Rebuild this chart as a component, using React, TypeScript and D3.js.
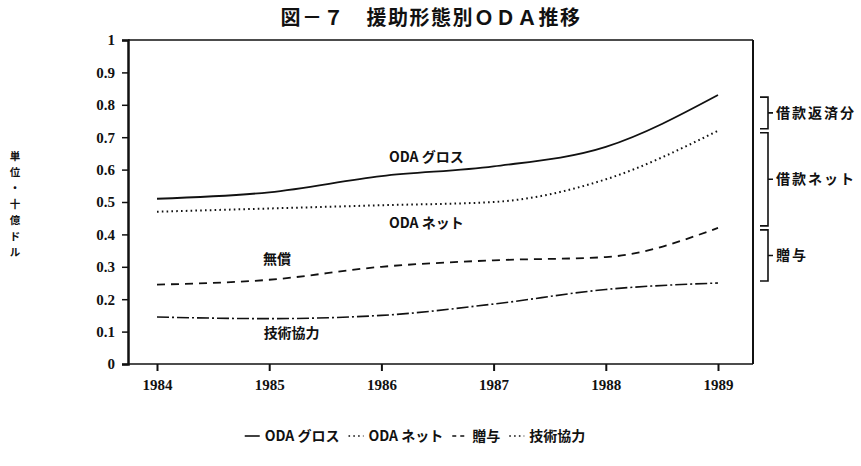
import { useEffect, useRef } from "react";
import * as d3 from "d3";

// ── Data (billions of US$) ─────────────────────────────────────────────────
const years = [1984, 1985, 1986, 1987, 1988, 1989];
const odaGross = [0.51, 0.53, 0.58, 0.61, 0.67, 0.83];
const odaNet = [0.47, 0.48, 0.49, 0.5, 0.57, 0.72];
const grant = [0.245, 0.26, 0.3, 0.32, 0.33, 0.42];
const techCoop = [0.145, 0.14, 0.15, 0.185, 0.23, 0.25];
const yTicks = [0, 0.1, 0.2, 0.3, 0.4, 0.5, 0.6, 0.7, 0.8, 0.9, 1];

const seriesNames = ["ODA グロス", "ODA ネット", "贈与", "技術協力"];
const unitLabel = ["単", "位", "・", "十", "億", "ド", "ル"];

const W = 861;
const H = 466;
const SERIF = "'Liberation Serif', 'DejaVu Serif', serif";
const JP = "'Noto Sans CJK JP', sans-serif";
const INK = "#111";

export default function App() {
  const svgRef = useRef<SVGSVGElement>(null);

  useEffect(() => {
    if (!svgRef.current) return;
    const svg = d3.select(svgRef.current);
    svg.selectAll("*").remove();

    const plot = { left: 128, right: 753, top: 40, bottom: 364 };

    const x = d3.scaleLinear().domain([1984, 1989]).range([157, 718]);
    const y = d3.scaleLinear().domain([0, 1]).range([plot.bottom, plot.top]);

    svg.append("rect").attr("width", W).attr("height", H).attr("fill", "#fff");

    // ── Title ──────────────────────────────────────────────────────────────
    svg.append("text")
      .attr("x", 431).attr("y", 25)
      .attr("text-anchor", "middle")
      .attr("font-family", JP).attr("font-size", 20).attr("font-weight", 700)
      .attr("letter-spacing", 1.5)
      .attr("fill", INK)
      .text("図－７　援助形態別ＯＤＡ推移");

    // ── Frame ──────────────────────────────────────────────────────────────
    svg.append("line")
      .attr("x1", plot.left).attr("x2", plot.right)
      .attr("y1", plot.top).attr("y2", plot.top)
      .attr("stroke", INK).attr("stroke-width", 1.3);
    svg.append("line")
      .attr("x1", plot.right).attr("x2", plot.right)
      .attr("y1", plot.top).attr("y2", plot.bottom)
      .attr("stroke", INK).attr("stroke-width", 2);

    // left axis
    svg.append("g")
      .attr("transform", `translate(${plot.left},0)`)
      .call(d3.axisLeft(y).tickValues(yTicks).tickSize(6).tickPadding(7)
        .tickFormat((v) => String(+v)))
      .call((ag) => ag.select(".domain").attr("stroke", INK).attr("stroke-width", 2.5))
      .call((ag) => ag.selectAll(".tick line").attr("stroke", INK).attr("stroke-width", 1.5))
      .call((ag) => ag.selectAll(".tick text")
        .attr("fill", INK).attr("font-family", SERIF)
        .attr("font-size", 15).attr("font-weight", 700));

    // bottom axis
    svg.append("g")
      .attr("transform", `translate(0,${plot.bottom})`)
      .call(d3.axisBottom(x).tickValues(years).tickSize(7).tickPadding(8)
        .tickFormat((v) => String(v)))
      .call((ag) => ag.select(".domain")
        .attr("d", `M${plot.left},0H${plot.right}`)
        .attr("stroke", INK).attr("stroke-width", 1.3))
      .call((ag) => ag.selectAll(".tick line").attr("stroke", INK).attr("stroke-width", 2))
      .call((ag) => ag.selectAll(".tick text")
        .attr("fill", INK).attr("font-family", SERIF)
        .attr("font-size", 15).attr("font-weight", 700));

    // ── Series lines ───────────────────────────────────────────────────────
    const line = d3.line<number>()
      .x((_, i) => x(years[i]))
      .y((d) => y(d))
      .curve(d3.curveMonotoneX);

    const styles = [
      { data: odaGross, dash: null, legendDash: null, width: 1.8 },
      { data: odaNet, dash: "1.6,3.2", legendDash: "1.6,3.2", width: 2 },
      { data: grant, dash: "8,6", legendDash: "4,4", width: 1.8 },
      { data: techCoop, dash: "12,3,2,3", legendDash: "1.6,3.2", width: 1.6 },
    ];

    styles.forEach((s) => {
      svg.append("path").datum(s.data)
        .attr("fill", "none")
        .attr("stroke", INK)
        .attr("stroke-width", s.width)
        .attr("stroke-dasharray", s.dash)
        .attr("d", line);
    });

    // ── In-chart labels ────────────────────────────────────────────────────
    const inLabels = [
      { t: "ODA グロス", yr: 1986.4, v: 0.625 },
      { t: "ODA ネット", yr: 1986.4, v: 0.42 },
      { t: "無償", yr: 1985.07, v: 0.31 },
      { t: "技術協力", yr: 1985.2, v: 0.08 },
    ];
    inLabels.forEach((l) => {
      svg.append("text")
        .attr("x", x(l.yr)).attr("y", y(l.v))
        .attr("text-anchor", "middle")
        .attr("font-family", JP).attr("font-size", 14).attr("font-weight", 700)
        .attr("fill", INK)
        .text(l.t);
    });

    // ── Right-hand braces ──────────────────────────────────────────────────
    const last = years.length - 1;
    const braces = [
      { t: "借款返済分", a: odaGross[last], b: odaNet[last] },
      { t: "借款ネット", a: odaNet[last], b: grant[last] },
      { t: "贈与", a: grant[last], b: techCoop[last] },
    ];
    braces.forEach((br) => {
      const y0 = y(br.a) + 2;
      const y1 = y(br.b) - 2;
      const ym = (y0 + y1) / 2;
      svg.append("path")
        .attr("d", `M760,${y0}H768V${y1}H760M768,${ym}H773`)
        .attr("fill", "none").attr("stroke", INK).attr("stroke-width", 1.6);
      svg.append("text")
        .attr("x", 776).attr("y", ym + 5)
        .attr("font-family", JP).attr("font-size", 14).attr("font-weight", 700)
        .attr("letter-spacing", 2)
        .attr("fill", INK)
        .text(br.t);
    });

    // ── Vertical unit label ────────────────────────────────────────────────
    unitLabel.forEach((ch, i) => {
      svg.append("text")
        .attr("x", 15).attr("y", 160 + i * 16)
        .attr("text-anchor", "middle")
        .attr("font-family", JP).attr("font-size", 10.5).attr("font-weight", 700)
        .attr("fill", INK)
        .text(ch);
    });

    // ── Legend (centred under the plot) ────────────────────────────────────
    const ly = 441;
    const lg = svg.append("g");
    let lx = 0;
    seriesNames.forEach((name, i) => {
      const s = styles[i];
      lg.append("line")
        .attr("x1", lx).attr("x2", lx + 15)
        .attr("y1", ly - 5).attr("y2", ly - 5)
        .attr("stroke", INK).attr("stroke-width", 1.6)
        .attr("stroke-dasharray", s.legendDash);
      const t = lg.append("text")
        .attr("x", lx + 20).attr("y", ly)
        .attr("font-family", JP).attr("font-size", 14).attr("font-weight", 700)
        .attr("fill", INK)
        .text(name);
      const tw = (t.node() as SVGTextElement).getComputedTextLength();
      lx += 20 + tw + 9;
    });
    const legendW = lx - 9;
    lg.attr("transform", `translate(${415 - legendW / 2},0)`);
  }, []);

  return (
    <svg
      ref={svgRef}
      width={W}
      height={H}
      style={{ position: "absolute", left: 0, top: 0 }}
    />
  );
}
